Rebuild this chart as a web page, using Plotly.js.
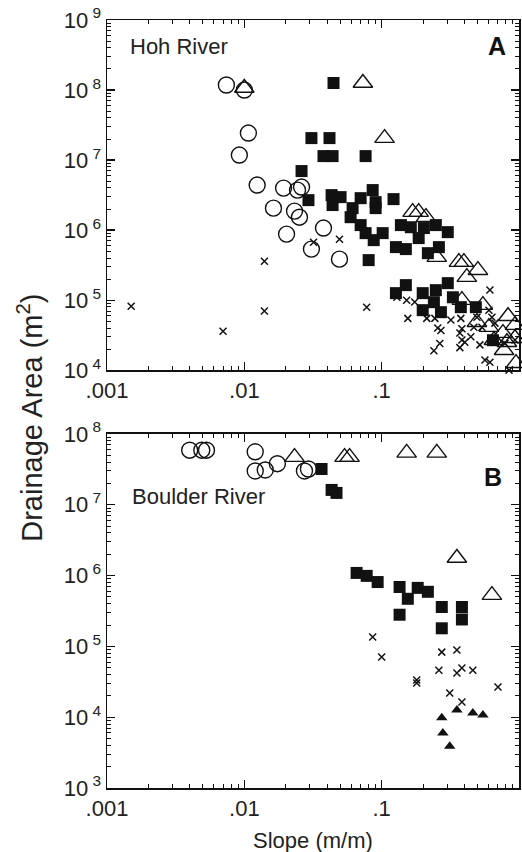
<!DOCTYPE html>
<html>
<head>
<meta charset="utf-8">
<script src="https://cdn.plot.ly/plotly-3.0.1.min.js"></script>
<style>html,body{margin:0;padding:0;background:#fff;}#chart{width:522px;height:852px;}</style>
</head>
<body>
<div id="chart"></div>
<script>
// ---- Panel A: Hoh River ----
const hohCircleSlope = [0.0074,0.010,0.0107,0.0092,0.0124,0.0193,0.0244,0.0261,0.0163,0.0232,0.0252,0.0203,0.0377,0.0308,0.0493];
const hohCircleArea  = [1.18e8,1.0e8,2.43e7,1.18e7,4.4e6,3.98e6,3.73e6,4.12e6,2.06e6,1.87e6,1.53e6,8.77e5,1.07e6,5.36e5,3.85e5];

const hohTriSlope = [0.010,0.073,0.105,0.168,0.186,0.210,0.252,0.365,0.397,0.417,0.502,0.384,0.546,0.494,0.604,0.832,0.935,0.764,0.817,0.778,0.935,0.951,0.657];
const hohTriArea  = [1.07e8,1.26e8,2.06e7,1.81e6,1.81e6,1.53e6,4.11e5,3.49e5,3.49e5,2.13e5,2.68e5,1.0e5,8.5e4,4.85e4,4.12e4,5.9e4,4.4e4,3.38e4,2.51e4,1.93e4,2.86e4,1.26e4,2.68e4];

const hohSqSlope = [0.0446,0.0308,0.0417,0.0377,0.0439,0.0764,0.0261,0.0293,0.0432,0.0502,0.0439,0.0614,0.0703,0.086,0.0904,0.0904,0.122,0.0594,0.0703,0.0764,0.0875,0.1017,0.127,0.150,0.138,0.163,0.186,0.203,0.248,0.303,0.217,0.261,0.0804,0.127,0.150,0.199,0.199,0.240,0.248,0.303,0.270,0.330,0.377,0.485,0.646];
const hohSqArea  = [1.26e8,2.06e7,2.06e7,1.14e7,1.14e7,1.14e7,6.97e6,2.68e6,3.16e6,2.96e6,2.28e6,2.06e6,2.86e6,3.73e6,2.51e6,2.06e6,2.77e6,1.53e6,1.18e6,9.06e5,7.2e5,9.06e5,5.72e5,5.36e5,1.18e6,1.10e6,7.69e5,1.07e6,1.18e6,9.36e5,4.69e5,5.72e5,3.73e5,1.26e5,1.64e5,1.26e5,7.2e4,9.36e4,1.39e5,1.75e5,6.74e4,1.10e5,7.94e4,7.94e4,2.68e4];

const hohXSlope = [0.0015,0.0070,0.014,0.014,0.0319,0.0493,0.0778,0.129,0.152,0.174,0.155,0.213,0.244,0.256,0.270,0.265,0.240,0.377,0.384,0.371,0.384,0.403,0.371,0.469,0.494,0.537,0.614,0.604,0.635,0.668,0.519,0.565,0.614,0.790,0.846,0.935,0.446,0.319];
const hohXArea  = [8.2e4,3.6e4,3.6e5,7.0e4,6.7e5,7.4e5,7.9e4,1.1e5,1.0e5,9.4e4,5.5e4,5.5e4,5.5e4,4.0e4,3.7e4,2.4e4,1.9e4,5.5e4,3.9e4,3.4e4,2.7e4,2.5e4,2.1e4,4.1e4,5.7e4,4.1e4,1.4e5,7.2e4,5.7e4,4.7e4,2.3e4,1.4e4,1.3e4,2.4e4,1.0e4,2.7e4,3.0e4,5.2e4];

// ---- Panel B: Boulder River ----
const boulderCircleSlope = [0.0040,0.0049,0.0053,0.0120,0.0120,0.0142,0.0174,0.0274,0.0293];
const boulderCircleArea  = [5.9e7,5.9e7,5.9e7,5.6e7,3.0e7,3.1e7,3.8e7,3.0e7,3.2e7];

const boulderTriSlope = [0.0232,0.0537,0.0584,0.152,0.252,0.353,0.635];
const boulderTriArea  = [4.7e7,4.7e7,4.7e7,5.4e7,5.4e7,1.77e6,5.3e5];

const boulderSqSlope = [0.0365,0.0432,0.0469,0.0657,0.0778,0.0935,0.135,0.155,0.183,0.217,0.274,0.384,0.135,0.274,0.384];
const boulderSqArea  = [3.2e7,1.62e7,1.47e7,1.09e6,9.9e5,8.1e5,6.9e5,4.7e5,6.7e5,5.9e5,3.6e5,3.6e5,2.8e5,1.8e5,2.4e5];

const boulderXSlope = [0.086,0.100,0.180,0.180,0.274,0.353,0.261,0.353,0.384,0.461,0.313,0.384,0.703];
const boulderXArea  = [1.36e5,7.1e4,3.35e4,3.04e4,8.3e4,8.9e4,4.6e4,4.2e4,4.95e4,4.6e4,2.2e4,1.64e4,2.67e4];

const boulderFTriSlope = [0.274,0.279,0.313,0.353,0.461,0.546];
const boulderFTriArea  = [9.8e3,6.0e3,3.9e3,1.26e4,1.15e4,1.07e4];

// ---- Tick labels ----
const xTickVals = [0.001, 0.01, 0.1, 1];
const xTickText = ['.001', '.01', '.1', '1'];
const yTopExps = [4,5,6,7,8,9];
const yBotExps = [3,4,5,6,7,8];

const INK = '#111';
const FONT = 'Liberation Sans, Arial, Helvetica, sans-serif';

// minor tick positions (log10 units) for 2..9 within each decade
function minorLogVals(lo, hi) {
  const v = [];
  for (let d = lo; d < hi; d++) for (let k = 2; k <= 9; k++) v.push(d + Math.log10(k));
  return v;
}
function axisBase() {
  return {
    type: 'log', showline: true, linecolor: INK, linewidth: 1.5, mirror: 'ticks',
    ticks: 'inside', ticklen: 8, tickwidth: 1.3, tickcolor: INK,
    showgrid: false, zeroline: false,
    tickfont: {family: FONT, size: 22, color: '#222'},
    tickmode: 'array'
  };
}
function xAxis(anchor) {
  return Object.assign(axisBase(), {
    anchor: anchor, domain: [0, 1], range: [-3, 0],
    tickvals: xTickVals, ticktext: xTickText
  });
}
function yAxis(anchor, exps, domain) {
  return Object.assign(axisBase(), {
    anchor: anchor, domain: domain, range: [exps[0], exps[exps.length - 1]],
    tickvals: exps.map(e => Math.pow(10, e)),
    ticktext: exps.map(e => '10<sup> ' + e + '</sup>')
  });
}
// overlay linear axes (log10 units) carrying only the short minor ticks
function minorAxis(over, anchor, lo, hi) {
  const mv = minorLogVals(lo, hi);
  return {
    type: 'linear', overlaying: over, anchor: anchor, range: [lo, hi], autorange: false,
    showline: false, mirror: 'ticks', ticks: 'inside', ticklen: 4, tickwidth: 1, tickcolor: INK,
    showgrid: false, zeroline: false, tickmode: 'array', tickvals: mv, ticktext: mv.map(() => ''),
    showticklabels: false
  };
}

const openCircle = {symbol: 'circle-open', size: 16, color: INK, line: {width: 1.4, color: INK}};
const openTri = {symbol: 'triangle-up-open', size: 17, color: INK, line: {width: 1.4, color: INK}};
const square = {symbol: 'square', size: 12, color: INK, line: {width: 0}};
const cross = {symbol: 'x-thin-open', size: 7, color: INK, line: {width: 1.5, color: INK}};
const filledTri = {symbol: 'triangle-up', size: 10, color: INK, line: {width: 0}};

function tr(x, y, marker, xa, ya) {
  return {type: 'scatter', mode: 'markers', x: x, y: y, marker: marker, xaxis: xa, yaxis: ya, cliponaxis: false, hoverinfo: 'skip'};
}

const data = [
  tr(hohXSlope, hohXArea, cross, 'x', 'y'),
  tr(hohSqSlope, hohSqArea, square, 'x', 'y'),
  tr(hohCircleSlope, hohCircleArea, openCircle, 'x', 'y'),
  tr(hohTriSlope, hohTriArea, openTri, 'x', 'y'),
  tr(boulderXSlope, boulderXArea, cross, 'x2', 'y2'),
  tr(boulderFTriSlope, boulderFTriArea, filledTri, 'x2', 'y2'),
  tr(boulderSqSlope, boulderSqArea, square, 'x2', 'y2'),
  tr(boulderCircleSlope, boulderCircleArea, openCircle, 'x2', 'y2'),
  tr(boulderTriSlope, boulderTriArea, openTri, 'x2', 'y2'),
  {type: 'scatter', mode: 'markers', x: [], y: [], xaxis: 'x3', yaxis: 'y3', hoverinfo: 'skip'},
  {type: 'scatter', mode: 'markers', x: [], y: [], xaxis: 'x4', yaxis: 'y4', hoverinfo: 'skip'}
];

const layout = {
  width: 522, height: 852,
  margin: {l: 107, r: 3, t: 20, b: 64},
  paper_bgcolor: '#fff', plot_bgcolor: 'rgba(0,0,0,0)',
  showlegend: false,
  font: {family: FONT, color: '#222'},
  xaxis: xAxis('y'),
  yaxis: yAxis('x', yTopExps, [0.544, 1]),
  xaxis2: xAxis('y2'),
  yaxis2: yAxis('x2', yBotExps, [0, 0.461]),
  xaxis3: minorAxis('x', 'y3', -3, 0),
  yaxis3: Object.assign(minorAxis('y', 'x3', 4, 9), {domain: [0.544, 1]}),
  xaxis4: minorAxis('x2', 'y4', -3, 0),
  yaxis4: Object.assign(minorAxis('y2', 'x4', 3, 8), {domain: [0, 0.461]}),
  annotations: [
    {text: 'Hoh River', xref: 'paper', yref: 'paper', x: 0.051, y: 0.966, xanchor: 'left', yanchor: 'middle', showarrow: false, font: {size: 22, family: FONT, color: '#222'}},
    {text: '<b>A</b>', xref: 'paper', yref: 'paper', x: 0.947, y: 0.966, xanchor: 'center', yanchor: 'middle', showarrow: false, font: {size: 25, family: FONT, color: '#111'}},
    {text: 'Boulder River', xref: 'paper', yref: 'paper', x: 0.056, y: 0.379, xanchor: 'left', yanchor: 'middle', showarrow: false, font: {size: 22, family: FONT, color: '#222'}},
    {text: '<b>B</b>', xref: 'paper', yref: 'paper', x: 0.937, y: 0.405, xanchor: 'center', yanchor: 'middle', showarrow: false, font: {size: 25, family: FONT, color: '#111'}},
    {text: 'Slope (m/m)', xref: 'paper', yref: 'paper', x: 0.5, y: -0.068, xanchor: 'center', yanchor: 'middle', showarrow: false, font: {size: 22, family: FONT, color: '#222'}},
    {text: 'Drainage Area (m<sup>2</sup>)', xref: 'paper', yref: 'paper', x: -0.187, y: 0.482, xanchor: 'center', yanchor: 'middle', textangle: -90, showarrow: false, font: {size: 29, family: FONT, color: '#222'}}
  ]
};

Plotly.newPlot('chart', data, layout, {displayModeBar: false, staticPlot: true});
</script>
</body>
</html>
